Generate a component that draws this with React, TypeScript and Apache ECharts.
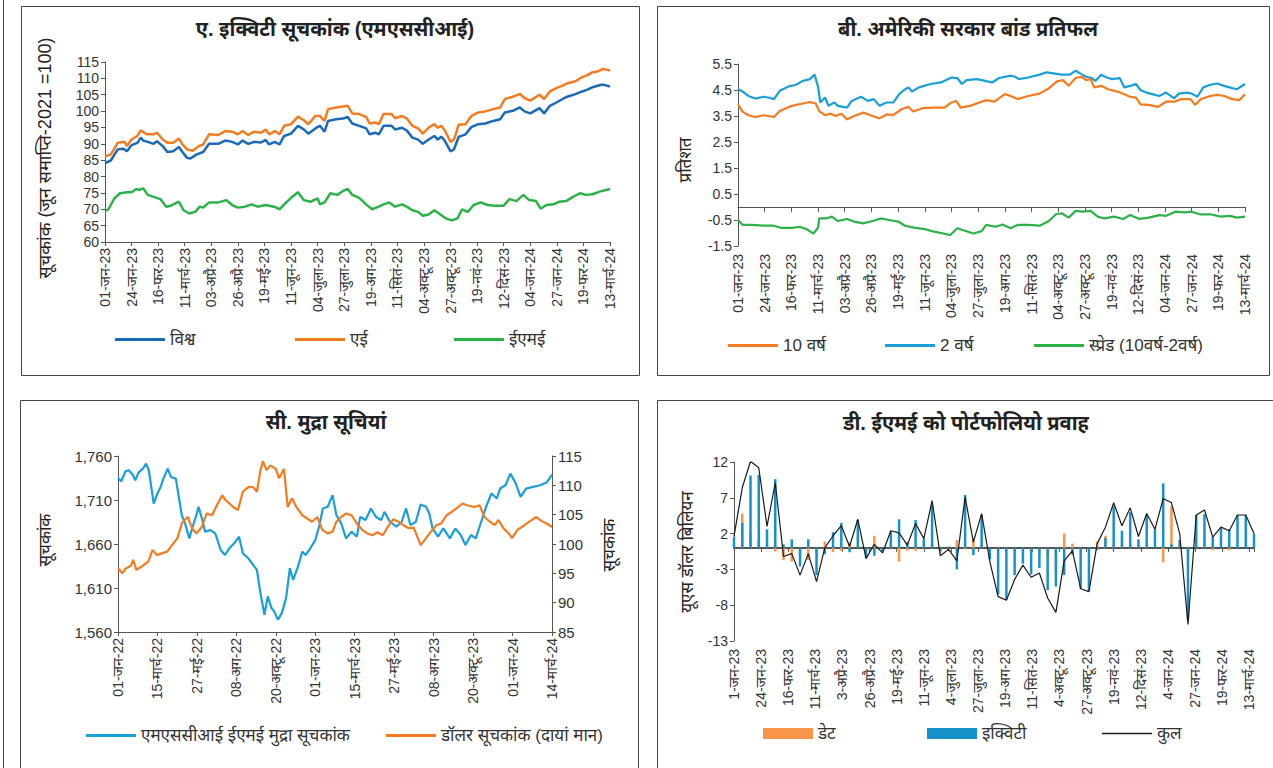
import React, { useEffect, useRef } from "react";
import * as echarts from "echarts";

const FONT = "'Liberation Sans', 'Noto Sans Devanagari', 'Lohit Devanagari', 'Mukta', sans-serif";

// ---------- Tick labels ----------
const ticksAB = ['01-जन-23','24-जन-23','16-फर-23','11-मार्च-23','03-अप्रै-23','26-अप्रै-23','19-मई-23','11-जून-23','04-जुला-23','27-जुला-23','19-अग-23','11-सितं-23','04-अक्टू-23','27-अक्टू-23','19-नवं-23','12-दिसं-23','04-जन-24','27-जन-24','19-फर-24','13-मार्च-24'];
const ticksD = ['1-जन-23','24-जन-23','16-फर-23','11-मार्च-23','3-अप्रै-23','26-अप्रै-23','19-मई-23','11-जून-23','4-जुला-23','27-जुला-23','19-अग-23','11-सितं-23','4-अक्टू-23','27-अक्टू-23','19-नवं-23','12-दिसं-23','4-जन-24','27-जन-24','19-फर-24','13-मार्च-24'];
const ticksC = ['01-जन-22','15-मार्च-22','27-मई-22','08-अग-22','20-अक्टू-22','01-जन-23','15-मार्च-23','27-मई-23','08-अग-23','20-अक्टू-23','01-जन-24','14-मार्च-24'];

// ---------- Panel A: [day since 01-Jan-23, index] ----------
const aWorld = [[0,84.1],[5,84.9],[11,88.3],[16,88.5],[19,87.7],[23,89.6],[28,90.3],[31,91.9],[33,91.0],[37,90.6],[42,90.0],[45,90.8],[50,89.3],[54,87.5],[59,87.7],[64,89.0],[67,87.5],[71,85.7],[74,85.5],[79,86.7],[85,87.5],[90,90.0],[98,90.0],[104,91.0],[110,90.6],[115,89.8],[119,91.0],[124,90.0],[129,90.6],[135,90.4],[139,91.2],[142,89.8],[147,90.6],[151,89.8],[155,92.4],[161,93.1],[167,95.5],[172,94.4],[176,93.1],[182,94.7],[186,95.5],[190,93.7],[193,97.0],[200,97.5],[206,97.7],[210,98.2],[214,96.2],[220,95.5],[226,94.7],[229,92.9],[234,93.4],[237,92.9],[241,95.5],[248,95.5],[251,94.4],[257,94.9],[261,94.1],[266,91.9],[271,91.3],[275,90.0],[280,91.3],[285,92.4],[288,91.3],[291,92.2],[294,91.0],[299,87.7],[302,88.3],[306,92.1],[312,92.9],[317,95.1],[323,96.0],[329,96.2],[336,97.0],[342,97.5],[346,99.6],[353,100.1],[359,101.1],[363,99.9],[368,99.3],[376,100.9],[380,99.3],[385,101.6],[391,102.7],[396,103.7],[400,104.4],[407,105.2],[413,106.0],[417,106.5],[422,107.3],[427,107.8],[431,108.1],[437,107.5]];
const aAE = [[0,86.2],[5,86.7],[11,90.3],[17,90.6],[19,89.3],[23,91.3],[28,92.4],[31,94.1],[36,92.9],[42,92.9],[45,93.4],[50,91.3],[54,90.3],[59,90.3],[64,91.6],[67,89.8],[71,88.3],[76,87.9],[81,89.3],[85,89.8],[90,92.9],[98,92.7],[104,93.9],[110,93.7],[115,92.9],[119,93.9],[124,92.7],[129,93.7],[135,93.4],[139,94.4],[142,92.9],[147,93.9],[151,92.9],[155,95.5],[161,96.0],[167,98.3],[172,97.2],[176,96.0],[182,98.5],[186,98.5],[190,97.0],[193,100.6],[200,101.1],[206,101.4],[210,101.6],[214,99.3],[220,99.1],[226,98.2],[229,96.2],[234,96.5],[237,96.0],[241,99.1],[248,99.1],[251,97.8],[257,98.5],[261,97.8],[266,95.5],[271,94.7],[275,93.1],[280,94.9],[285,96.0],[288,94.9],[291,95.5],[294,94.1],[299,90.6],[302,91.3],[306,95.8],[312,96.0],[317,98.5],[323,99.6],[329,99.9],[336,100.6],[342,101.1],[346,103.7],[353,104.4],[359,105.2],[363,104.0],[368,103.2],[376,105.0],[380,103.7],[385,106.0],[391,107.1],[396,107.8],[400,108.5],[407,109.1],[413,110.4],[417,110.9],[422,111.9],[427,112.2],[431,112.9],[437,112.4]];
const aEME = [[0,69.4],[3,70.0],[8,73.3],[13,74.9],[19,75.2],[23,75.2],[27,76.2],[30,75.9],[33,76.4],[37,74.4],[42,73.8],[48,73.1],[53,70.8],[57,71.1],[64,72.3],[68,69.7],[73,68.7],[78,69.2],[82,70.8],[85,70.5],[90,72.1],[98,72.1],[105,72.8],[110,71.3],[115,70.5],[121,70.8],[127,71.5],[132,70.8],[139,71.3],[147,70.7],[151,70.0],[155,71.5],[161,73.5],[167,75.2],[172,72.8],[178,72.3],[184,73.3],[186,71.5],[190,72.1],[195,74.9],[201,74.4],[206,75.6],[210,76.2],[214,74.4],[220,73.5],[226,71.5],[231,70.0],[237,70.8],[241,71.5],[246,72.1],[251,70.8],[257,71.5],[261,70.8],[266,69.7],[271,69.2],[275,68.0],[280,68.4],[285,69.7],[289,68.7],[295,67.2],[300,66.6],[305,67.2],[309,70.0],[314,69.2],[319,71.3],[325,72.1],[331,71.3],[337,71.1],[345,71.1],[350,73.1],[356,72.5],[362,74.4],[367,72.8],[373,72.5],[377,70.2],[382,71.3],[388,71.5],[393,72.3],[399,72.5],[405,73.8],[411,74.9],[416,74.4],[422,74.6],[428,75.4],[437,76.2]];

// ---------- Panel B: [day since 01-Jan-23, per cent] ----------
const b2y = [[0,4.53],[4,4.44],[9,4.27],[15,4.17],[22,4.24],[26,4.21],[31,4.15],[36,4.47],[44,4.64],[50,4.70],[56,4.85],[62,4.92],[66,5.09],[69,4.62],[71,4.02],[75,4.21],[78,3.89],[83,4.02],[86,3.89],[94,3.82],[98,4.08],[106,4.24],[112,4.08],[117,4.15],[122,3.89],[128,4.02],[134,4.02],[139,4.34],[144,4.53],[147,4.60],[150,4.44],[156,4.60],[166,4.73],[175,4.79],[184,4.98],[189,4.96],[193,4.73],[197,4.88],[206,4.92],[213,4.85],[219,4.79],[225,4.96],[235,5.05],[239,5.01],[242,4.92],[250,4.98],[260,5.09],[266,5.18],[272,5.14],[279,5.09],[286,5.09],[291,5.24],[296,5.11],[300,5.01],[305,4.96],[308,4.85],[313,5.09],[318,4.98],[322,4.92],[329,4.96],[333,4.60],[338,4.66],[343,4.73],[347,4.49],[352,4.40],[357,4.34],[363,4.27],[369,4.40],[376,4.18],[380,4.36],[387,4.40],[391,4.36],[396,4.24],[401,4.60],[407,4.70],[413,4.75],[419,4.66],[426,4.57],[430,4.53],[437,4.73]];
const b10y = [[0,3.95],[4,3.67],[9,3.53],[15,3.46],[22,3.53],[26,3.50],[31,3.46],[36,3.69],[44,3.85],[50,3.93],[56,3.98],[62,4.04],[67,3.98],[70,3.69],[75,3.53],[80,3.59],[84,3.50],[89,3.59],[94,3.37],[100,3.50],[108,3.63],[116,3.50],[122,3.41],[128,3.56],[134,3.54],[141,3.76],[147,3.85],[151,3.67],[159,3.80],[169,3.82],[178,3.82],[184,4.02],[188,4.08],[192,3.82],[200,3.89],[210,4.05],[214,4.11],[221,4.05],[230,4.34],[235,4.27],[241,4.15],[250,4.27],[260,4.36],[268,4.57],[275,4.83],[280,4.88],[285,4.66],[291,4.96],[296,5.01],[300,4.88],[304,4.92],[307,4.60],[313,4.66],[319,4.53],[327,4.44],[333,4.34],[338,4.24],[343,4.21],[347,3.95],[354,3.93],[362,3.85],[369,4.05],[376,4.05],[382,4.15],[390,4.15],[394,3.93],[399,4.15],[407,4.27],[413,4.31],[419,4.27],[426,4.15],[432,4.11],[437,4.34]];
const bSpread = [[0,-0.50],[4,-0.69],[12,-0.69],[22,-0.72],[31,-0.72],[37,-0.80],[47,-0.80],[53,-0.76],[59,-0.85],[65,-1.02],[69,-0.80],[70,-0.44],[76,-0.44],[81,-0.37],[86,-0.54],[94,-0.46],[100,-0.56],[108,-0.63],[116,-0.54],[123,-0.44],[130,-0.50],[138,-0.56],[144,-0.72],[153,-0.80],[161,-0.85],[169,-0.95],[177,-1.02],[183,-1.08],[189,-0.82],[197,-0.93],[203,-1.02],[210,-0.93],[214,-0.69],[222,-0.76],[228,-0.67],[235,-0.82],[241,-0.69],[250,-0.69],[260,-0.72],[268,-0.54],[274,-0.28],[279,-0.24],[285,-0.41],[291,-0.15],[297,-0.18],[304,-0.15],[310,-0.37],[316,-0.44],[324,-0.37],[332,-0.46],[338,-0.31],[346,-0.46],[354,-0.41],[363,-0.31],[369,-0.34],[377,-0.18],[385,-0.21],[391,-0.18],[398,-0.28],[407,-0.28],[416,-0.37],[424,-0.34],[430,-0.41],[437,-0.37]];

// ---------- Panel C: [day since 01-Jan-22, index] ----------
const cEM = [[0,1735.1],[6,1731.3],[14,1742.6],[20,1743.8],[27,1738.9],[32,1732.5],[38,1741.1],[46,1745.7],[52,1751.3],[57,1743.8],[62,1723.0],[66,1706.0],[73,1717.4],[79,1724.9],[84,1734.3],[92,1745.7],[98,1736.2],[107,1734.3],[113,1711.7],[118,1692.8],[124,1683.4],[132,1666.4],[139,1681.5],[145,1692.8],[149,1702.3],[156,1687.2],[161,1674.0],[171,1675.8],[180,1672.1],[190,1653.2],[198,1647.5],[206,1655.1],[215,1660.8],[224,1668.3],[231,1649.4],[241,1643.8],[250,1636.2],[257,1630.6],[263,1606.0],[271,1579.6],[277,1600.4],[284,1587.2],[289,1583.4],[296,1574.0],[303,1581.5],[311,1598.5],[318,1632.5],[324,1619.2],[333,1634.3],[341,1651.3],[347,1647.5],[356,1655.1],[365,1664.5],[372,1679.6],[379,1700.4],[388,1702.3],[397,1715.5],[404,1692.8],[413,1683.4],[422,1666.4],[432,1674.0],[442,1668.3],[448,1690.9],[458,1687.2],[468,1700.4],[477,1690.9],[487,1687.2],[493,1696.6],[503,1685.3],[515,1679.6],[525,1685.3],[533,1700.4],[541,1681.5],[551,1685.3],[560,1704.9],[570,1702.3],[576,1694.7],[582,1677.7],[592,1668.3],[602,1677.7],[614,1666.4],[624,1677.7],[634,1670.2],[643,1658.9],[653,1670.2],[662,1666.4],[672,1685.3],[681,1702.3],[691,1717.4],[701,1711.7],[707,1723.0],[717,1726.8],[726,1740.0],[736,1728.7],[745,1713.6],[755,1723.0],[768,1724.9],[781,1726.8],[793,1729.8],[803,1738.9]];
const cDXY = [[0,95.9],[8,95.0],[14,95.8],[24,96.3],[28,97.3],[34,95.6],[46,96.3],[56,97.0],[64,99.0],[72,98.1],[81,98.4],[91,98.7],[100,99.8],[110,101.0],[118,103.5],[123,104.1],[129,104.6],[137,102.7],[145,101.8],[155,102.9],[164,105.2],[174,104.9],[183,106.6],[193,108.3],[199,107.5],[206,106.9],[213,106.3],[222,105.8],[231,108.9],[241,109.7],[250,109.7],[257,108.9],[263,112.3],[268,114.1],[275,112.6],[282,113.4],[292,112.8],[298,111.2],[307,112.8],[314,106.3],[322,107.8],[330,106.3],[341,104.9],[349,104.4],[359,103.8],[369,104.6],[378,102.4],[388,101.8],[397,102.1],[404,103.8],[413,104.6],[422,105.2],[432,104.9],[442,103.5],[452,102.4],[461,101.8],[471,101.5],[480,102.0],[490,101.5],[499,102.9],[509,104.2],[519,103.8],[528,103.2],[538,102.7],[547,102.8],[554,101.2],[560,99.8],[570,101.0],[579,102.1],[589,103.2],[598,103.5],[608,104.9],[618,105.5],[627,106.1],[637,106.9],[646,106.6],[659,106.3],[669,106.6],[678,104.6],[688,103.8],[697,103.2],[704,104.1],[713,102.7],[723,101.8],[729,101.0],[739,102.4],[752,103.2],[761,103.8],[774,104.6],[784,103.9],[793,103.5],[803,102.9]];

// ---------- Panel D: weekly flows (US$ bn), week 0 = 1-Jan-23 ----------
const dDebt = [0,4.8,2.0,1.0,0.3,-0.5,-1.7,-1.9,-1.1,-1.7,-0.8,0.9,-0.6,-0.4,0.8,0,0,1.7,0,0.3,-1.9,-0.4,-0.4,0.3,0.6,-0.7,0,1.1,-0.2,1.3,0.4,0,-0.3,-0.1,-0.6,-0.2,-0.4,-0.7,-1.1,-3.6,2.0,0.6,0,-0.1,0.9,1.7,0.4,0.6,0.6,0.3,0.2,0,-2.0,5.8,0.9,-0.8,0,0.6,-0.3,0,-0.3,0,0,0];
const dEquity = [1.5,3.5,10.1,10.2,2.6,9.6,0.5,1.2,-2.6,1.2,-3.8,-0.9,2.2,3.5,-0.6,3.9,-1.4,-1.1,-0.5,2.3,4.0,0.8,3.9,1.3,6.0,-0.4,0.2,-3.0,7.4,-1.0,4.6,-1.6,-6.5,-7.2,-3.8,-2.2,-3.7,-2.8,-5.9,-5.4,-3.8,-0.9,-5.7,-6.0,-0.3,1.4,5.8,2.4,5.0,1.2,4.6,2.6,9.0,0.5,1.1,-9.9,4.6,4.7,1.5,2.9,2.6,4.6,4.6,2.0];
const dTotal = [1.6,8.4,12.1,11.2,3.0,9.1,-1.2,-0.8,-3.8,-0.8,-4.7,0.0,1.7,3.1,0.2,4.0,-1.5,0.5,-0.7,2.4,2.1,0.4,3.4,1.3,6.6,-1.1,-0.2,-1.8,7.1,0.8,4.8,-1.9,-6.8,-7.3,-4.4,-2.4,-4.1,-3.5,-7.0,-9.0,-1.8,-0.4,-5.7,-6.1,0.6,2.9,6.3,3.1,5.6,1.6,4.8,2.6,6.9,6.3,2.0,-10.7,4.6,5.3,1.5,2.9,2.4,4.6,4.6,2.0];
const dWeekDay = dTotal.map((_, i) => i * 7);

const C_BLUE_DARK = "#1b6ab8";
const C_ORANGE = "#f47b20";
const C_GREEN = "#2db24a";
const C_BLUE = "#1a9fd9";
const C_DEBT = "#f7964a";
const C_EQ = "#1592c8";
const AX = "#555";

const fmt = (labels: string[], step: number) => (v: number) => {
  const i = Math.round(v / step);
  return Math.abs(v - i * step) < 1e-6 && labels[i] ? labels[i] : "";
};

const xLabel = (labels: string[], step: number, margin = 6) => ({
  rotate: 90,
  fontSize: 14,
  color: "#333",
  fontFamily: FONT,
  margin,
  showMaxLabel: true,
  formatter: fmt(labels, step),
});

const yLabel = (extra: any = {}) => ({ fontSize: 14, color: "#333", fontFamily: FONT, margin: 6, ...extra });

const lineS = (name: string, data: number[][], color: string, xi: number, yi: number, w = 2.5) => ({
  name,
  type: "line",
  data,
  xAxisIndex: xi,
  yAxisIndex: yi,
  showSymbol: false,
  symbol: "none",
  color,
  lineStyle: { color, width: w },
  z: 3,
});

const leg = (name: string, left: number, top: number, h = 3, w = 50) => ({
  data: [name],
  left,
  top,
  padding: 0,
  itemWidth: w,
  itemHeight: h,
  icon: "rect",
  itemGap: 0,
  selectedMode: false,
  textStyle: { fontSize: 17, color: "#333", fontFamily: FONT, padding: [0, 0, 0, 0] },
});

const gText = (text: string, x: number, y: number, size: number, bold = false, rot = 0) => ({
  type: "text",
  x,
  y,
  rotation: rot,
  style: {
    text,
    fontSize: size,
    fontWeight: bold ? "bold" : "normal",
    fontFamily: FONT,
    fill: "#222",
    align: "center",
    verticalAlign: "middle",
    textAlign: "center",
    textVerticalAlign: "middle",
  },
});

const gRect = (x: number, y: number, w: number, h: number) => ({
  type: "rect",
  shape: { x, y, width: w, height: h },
  style: { fill: "none", stroke: "#444", lineWidth: 1 },
  silent: true,
});

export default function App() {
  const ref = useRef<HTMLDivElement>(null);
  useEffect(() => {
    if (!ref.current) return;
    const chart = echarts.init(ref.current, undefined, { renderer: "svg" });
    const axisLineShow = { show: true, lineStyle: { color: AX, width: 1 } };
    const tick = { show: true, length: 4, lineStyle: { color: AX } };
    const option: any = {
      animation: false,
      backgroundColor: "#fff",
      textStyle: { fontFamily: FONT },
      grid: [
        { left: 105, top: 62, width: 505, height: 180 },
        { left: 738, top: 64, width: 507, height: 182 },
        { left: 118, top: 456, width: 434, height: 176 },
        { left: 734, top: 462, width: 520, height: 179 },
      ],
      xAxis: [
        { gridIndex: 0, type: "value", min: 0, max: 437, interval: 23, axisLine: { ...axisLineShow, onZero: false }, axisTick: tick, splitLine: { show: false }, axisLabel: xLabel(ticksAB, 23) },
        { gridIndex: 1, type: "value", position: "bottom", min: 0, max: 437, interval: 23, axisLine: { ...axisLineShow, onZero: true }, axisTick: { ...tick, length: 5 }, splitLine: { show: false }, axisLabel: { show: false } },
        { gridIndex: 1, type: "value", position: "bottom", min: 0, max: 437, interval: 23, axisLine: { show: false, onZero: false }, axisTick: { show: false }, splitLine: { show: false }, axisLabel: xLabel(ticksAB, 23, 8) },
        { gridIndex: 2, type: "value", min: 0, max: 803, interval: 73, axisLine: { ...axisLineShow, onZero: false }, axisTick: tick, splitLine: { show: false }, axisLabel: xLabel(ticksC, 73) },
        { gridIndex: 3, type: "value", position: "bottom", min: 0, max: 441, interval: 23, axisLine: { show: true, onZero: true, lineStyle: { color: "#555", width: 2 } }, axisTick: { ...tick, length: 4 }, splitLine: { show: false }, axisLabel: { show: false } },
        { gridIndex: 3, type: "value", position: "bottom", min: 0, max: 441, interval: 23, axisLine: { show: false, onZero: false }, axisTick: { show: false }, splitLine: { show: false }, axisLabel: { ...xLabel(ticksD, 23, 8), showMaxLabel: false } },
      ],
      yAxis: [
        { gridIndex: 0, type: "value", min: 60, max: 115, interval: 5, axisLine: axisLineShow, axisTick: tick, splitLine: { show: false }, axisLabel: yLabel() },
        { gridIndex: 1, type: "value", min: -1.5, max: 5.5, interval: 1, axisLine: axisLineShow, axisTick: tick, splitLine: { show: false }, axisLabel: yLabel({ formatter: (v: number) => v.toFixed(1) }) },
        { gridIndex: 2, type: "value", min: 1560, max: 1760, interval: 50, axisLine: axisLineShow, axisTick: tick, splitLine: { show: false }, axisLabel: yLabel({ fontSize: 15, formatter: (v: number) => v.toLocaleString("en-US") }) },
        { gridIndex: 2, type: "value", position: "right", min: 85, max: 115, interval: 5, axisLine: axisLineShow, axisTick: tick, splitLine: { show: false }, axisLabel: yLabel({ fontSize: 15 }) },
        { gridIndex: 3, type: "value", min: -13, max: 12, interval: 5, axisLine: axisLineShow, axisTick: tick, splitLine: { show: false }, axisLabel: yLabel() },
      ],
      legend: [
        leg("विश्व", 115, 331),
        leg("एई", 295, 331),
        leg("ईएमई", 454, 331),
        leg("10 वर्ष", 728, 337),
        leg("2 वर्ष", 885, 337),
        leg("स्प्रेड (10वर्ष-2वर्ष)", 1034, 337),
        leg("एमएससीआई ईएमई मुद्रा सूचकांक", 86, 727),
        leg("डॉलर सूचकांक (दायां मान)", 386, 727),
        leg("डेट", 763, 725, 11),
        leg("इक्विटी", 927, 725, 11),
        leg("कुल", 1102, 725, 1.5),
      ],
      series: [
        lineS("ईएमई", aEME, C_GREEN, 0, 0),
        lineS("एई", aAE, C_ORANGE, 0, 0),
        lineS("विश्व", aWorld, C_BLUE_DARK, 0, 0),
        lineS("स्प्रेड (10वर्ष-2वर्ष)", bSpread, C_GREEN, 1, 1, 2.2),
        lineS("2 वर्ष", b2y, C_BLUE, 1, 1, 2.2),
        lineS("10 वर्ष", b10y, C_ORANGE, 1, 1, 2.2),
        lineS("एमएससीआई ईएमई मुद्रा सूचकांक", cEM, C_BLUE, 3, 2, 2.2),
        lineS("डॉलर सूचकांक (दायां मान)", cDXY, C_ORANGE, 3, 3, 2.2),
        {
          name: "डेट", type: "bar", stack: "flow", xAxisIndex: 4, yAxisIndex: 4, barWidth: 2.5, color: C_DEBT,
          itemStyle: { color: C_DEBT }, data: dDebt.map((v, i) => [dWeekDay[i], v]), z: 2,
        },
        {
          name: "इक्विटी", type: "bar", stack: "flow", xAxisIndex: 4, yAxisIndex: 4, barWidth: 2.5, color: C_EQ,
          itemStyle: { color: C_EQ }, data: dEquity.map((v, i) => [dWeekDay[i], v]), z: 2,
        },
        {
          ...lineS("कुल", dTotal.map((v, i) => [dWeekDay[i], v]), "#1a1a1a", 4, 4, 1.2),
          z: 4,
        },
      ],
      graphic: [
        { type: "line", shape: { x1: 3.5, y1: 0, x2: 3.5, y2: 768 }, style: { stroke: "#444", lineWidth: 1 }, silent: true },
        gRect(21.5, 6.5, 618, 369),
        gRect(657.5, 6.5, 612, 369),
        gRect(20.5, 400.5, 618, 380),
        gRect(657.5, 400.5, 620, 380),
        gText("ए. इक्विटी सूचकांक (एमएससीआई)", 335, 29, 20, true),
        gText("बी. अमेरिकी सरकार बांड प्रतिफल", 968, 29, 20, true),
        gText("सी. मुद्रा सूचियां", 326, 422, 20, true),
        gText("डी. ईएमई को पोर्टफोलियो प्रवाह", 966, 423, 20, true),
        gText("सूचकांक (जून समाप्ति-2021 =100)", 45, 158, 18, false, Math.PI / 2),
        gText("प्रतिशत", 685, 160, 17, false, Math.PI / 2),
        gText("सूचकांक", 45, 540, 17, false, Math.PI / 2),
        gText("सूचकांक", 609, 545, 17, false, Math.PI / 2),
        gText("यूएस डॉलर बिलियन", 687, 552, 17, false, Math.PI / 2),
      ],
    };
    chart.setOption(option);
    return () => chart.dispose();
  }, []);
  return (
    <div
      ref={ref}
      style={{ position: "absolute", left: 0, top: 0, width: 1273, height: 768, background: "#fff" }}
    />
  );
}
